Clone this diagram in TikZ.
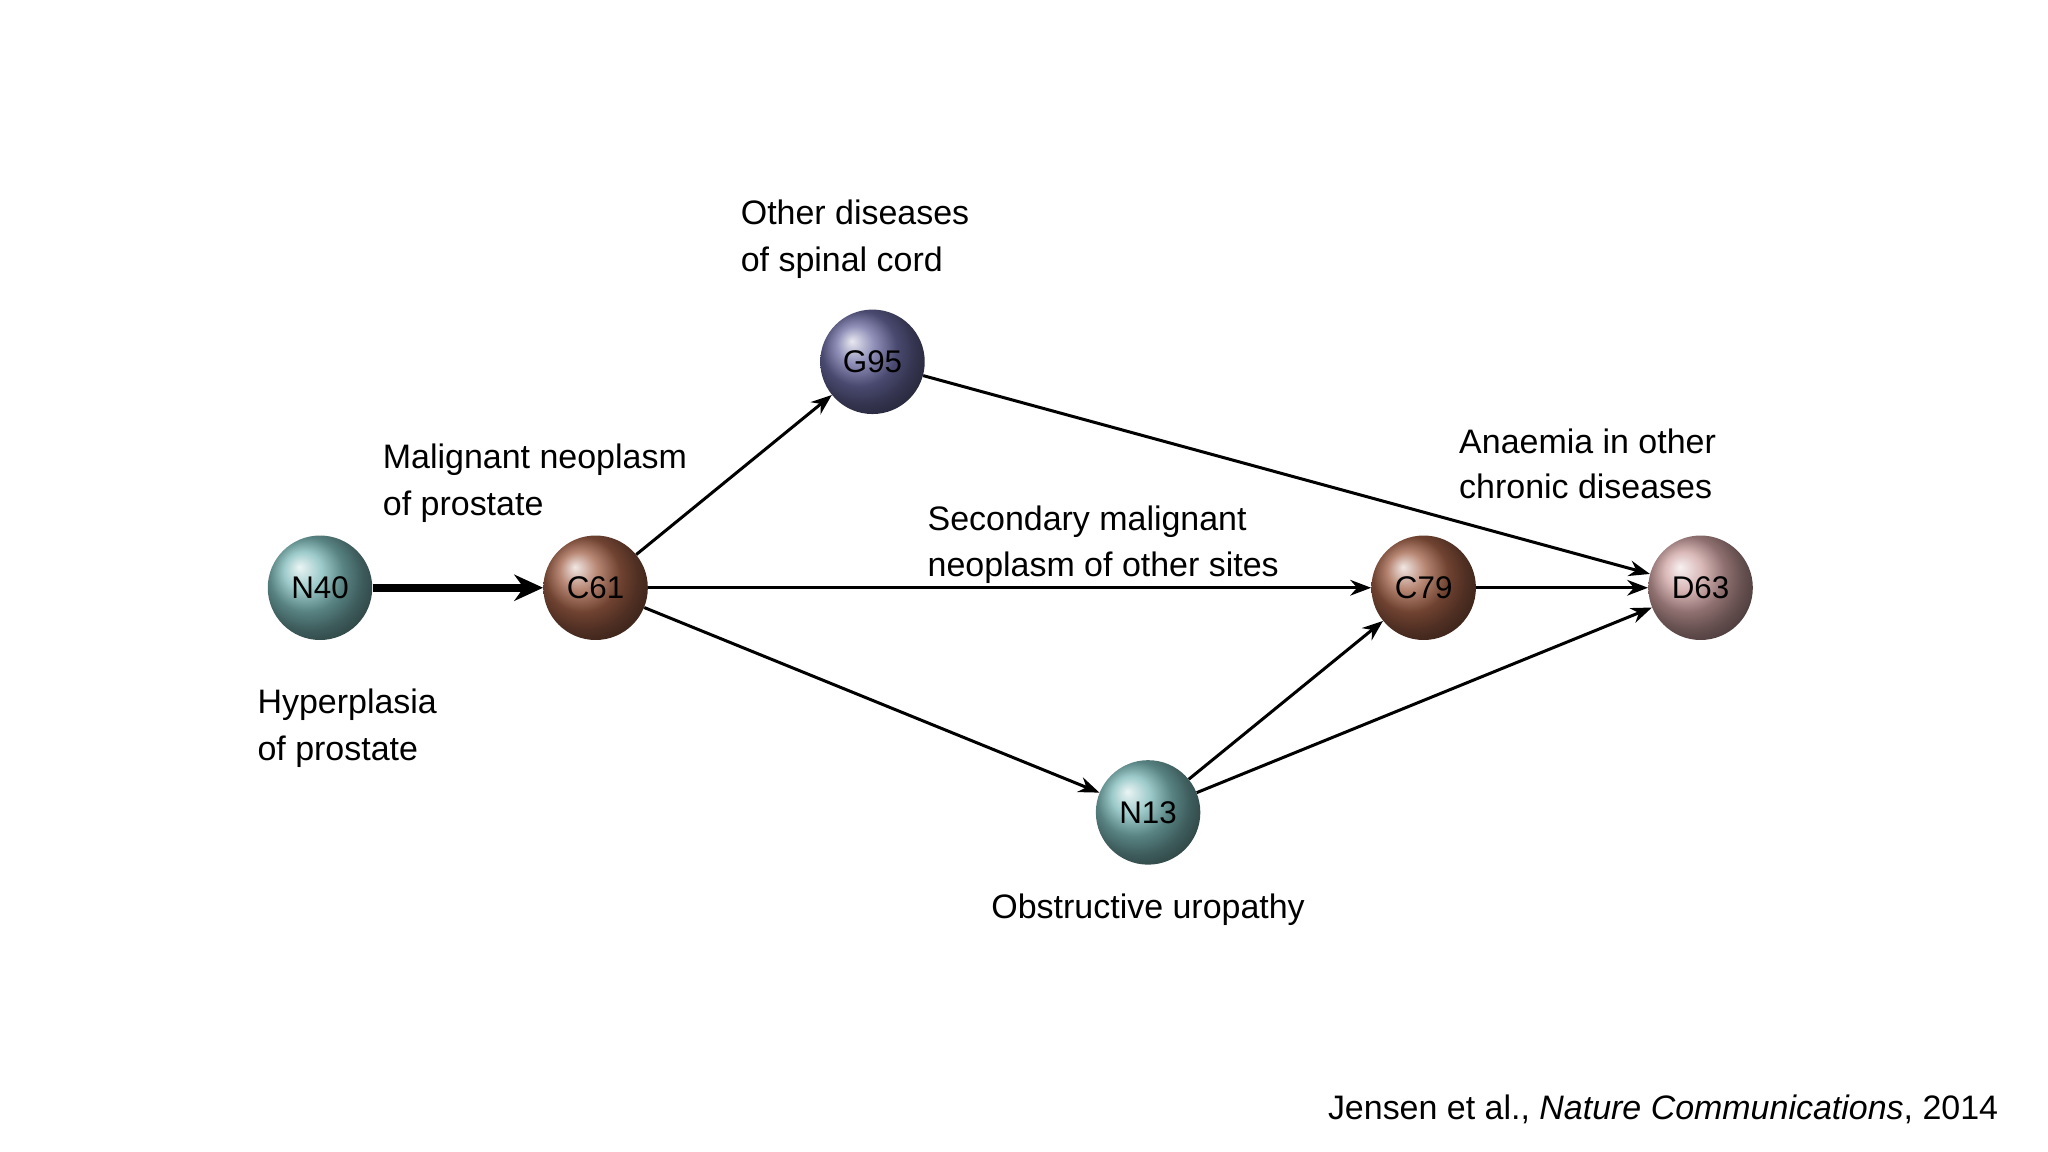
\documentclass[tikz,border=0pt]{standalone}
\usepackage{fontspec}
\setmainfont{Liberation Sans}
\usetikzlibrary{arrows.meta}
\definecolor{teal1}{RGB}{125,185,185}
\definecolor{brown1}{RGB}{160,95,70}
\definecolor{purp1}{RGB}{105,105,160}
\definecolor{pink1}{RGB}{205,160,160}
\begin{document}
\begin{tikzpicture}[x=1pt,y=-1pt,
  ball/.style={circle,minimum size=80pt,inner sep=0pt,ball color=#1,font=\fontsize{24}{28}\selectfont,text=black},
  lab/.style={anchor=base west,inner sep=0pt,font=\fontsize{26}{30}\selectfont},
  edge/.style={line width=2.3pt,-{Stealth[length=16pt,width=12pt]}}]
\useasboundingbox (0,0) rectangle (1568,882);
\node[ball=teal1] (N40) at (245,450) {N40};
\node[ball=brown1] (C61) at (456,450) {C61};
\node[ball=purp1] (G95) at (668,277) {G95};
\node[ball=brown1] (C79) at (1090,450) {C79};
\node[ball=pink1] (D63) at (1302,450) {D63};
\node[ball=teal1] (N13) at (879,622) {N13};
\draw[line width=6pt,-{Stealth[length=22pt,width=20pt]}] (N40) -- (C61);
\draw[edge] (C61) -- (G95);
\draw[edge] (C61) -- (C79);
\draw[edge] (C61) -- (N13);
\draw[edge] (G95) -- (D63);
\draw[edge] (C79) -- (D63);
\draw[edge] (N13) -- (C79);
\draw[edge] (N13) -- (D63);
\node[lab] (l1a) at (567,172) {Other diseases};
\node[lab] (l1b) at (567,208) {of spinal cord};
\node[lab] (l2a) at (293,359) {Malignant neoplasm};
\node[lab] (l2b) at (293,395) {of prostate};
\node[lab] (l3a) at (197,546) {Hyperplasia};
\node[lab] (l3b) at (197,582) {of prostate};
\node[lab] (l4a) at (710,406) {Secondary malignant};
\node[lab] (l4b) at (710,441) {neoplasm of other sites};
\node[lab] (l5a) at (1117,347) {Anaemia in other};
\node[lab] (l5b) at (1117,382) {chronic diseases};
\node[lab,anchor=base] (l6) at (879,703) {Obstructive uropathy};
\node[lab,anchor=base east] (cite) at (1530,857) {Jensen et al., \textit{Nature Communications}, 2014};
\end{tikzpicture}
\end{document}
